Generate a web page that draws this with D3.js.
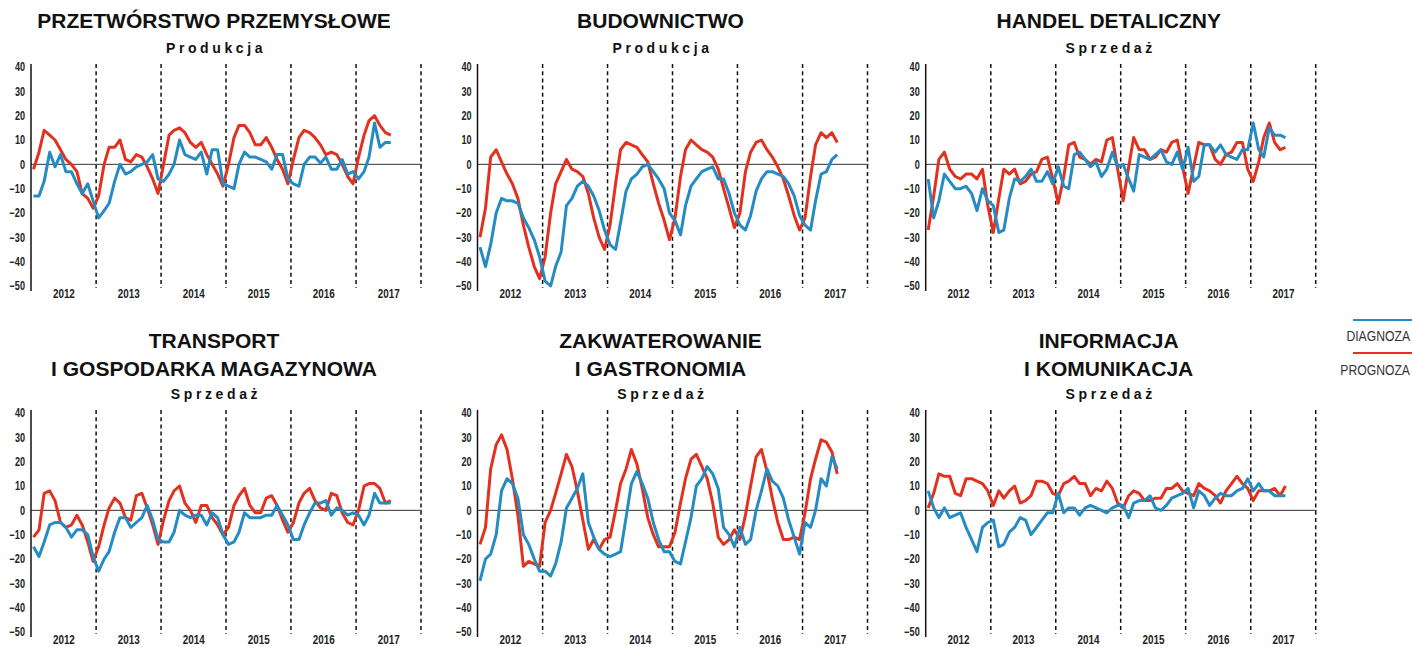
<!DOCTYPE html>
<html><head><meta charset="utf-8">
<script src="https://cdn.jsdelivr.net/npm/d3@7"></script>
<style>
body{margin:0;background:#fff;}
svg{display:block;}
.num{font-family:"Liberation Sans",Arial,sans-serif;font-weight:bold;}
</style></head><body>
<svg id="chart" width="1412" height="647"></svg>
<script>
// ---------------- DATA ----------------
const years = [2012, 2013, 2014, 2015, 2016, 2017];
const yTicks = [40, 30, 20, 10, 0, -10, -20, -30, -40, -50];
const seriesNames = ["DIAGNOZA", "PROGNOZA"];
const panelTitles = [
  ["PRZETWÓRSTWO PRZEMYSŁOWE"],
  ["BUDOWNICTWO"],
  ["HANDEL DETALICZNY"],
  ["TRANSPORT", "I GOSPODARKA MAGAZYNOWA"],
  ["ZAKWATEROWANIE", "I GASTRONOMIA"],
  ["INFORMACJA", "I KOMUNIKACJA"]
];
const panelSubtitles = ["Produkcja", "Produkcja", "Sprzedaż", "Sprzedaż", "Sprzedaż", "Sprzedaż"];

// monthly values Jan 2012 - Jul 2017
const przemyslDiag = [-13,-13,-7,5,-1,4,-3,-3,-8,-12,-8,-15, -22,-19,-16,-7,0,-4,-3,-1,0,1,4,-6, -7,-4,0,10,4,3,2,5,-4,6,6,-8, -9,-10,0,5,3,3,2,1,-2,4,4,-6, -8,-9,0,3,3,0.5,3,-2,-2,2,-4,-3, -6,-3,3,17,7,9,9];
const przemyslProg = [-2,5,14,12,10,6,2,0,-3,-12,-14,-18, -13,0,7,7,10,2,1,4,3,-1,-6,-12, 0,12,14,15,13,9,7,9,4,0,-4,-9, 0,11,16,16,13,8,8,11,7,2,-2,-8, 2,11,14,13,11,8,4,5,4,0,-5,-8, 3,12,18,20,16,13,12];
const budowDiag = [-34,-42,-33,-20,-14,-15,-15,-16,-22,-26,-31,-38, -48,-50,-42,-36,-17,-14,-9,-7,-9,-13,-19,-27, -33,-35,-24,-11,-6,-4,-1,0,-3,-6,-10,-20, -23,-29,-17,-9,-6,-3,-2,-1,-6,-6,-12,-20, -25,-27,-21,-11,-6,-3,-3,-4,-5,-8,-13,-21, -25,-27,-15,-4,-3,2,4];
const budowProg = [-30,-18,3,6,1,-4,-8,-14,-25,-34,-42,-47, -38,-20,-8,-3,2,-2,-3,-5,-12,-22,-30,-35, -25,-8,6,9,8,7,4,1,-8,-16,-23,-31, -22,-5,6,10,8,6,5,3,-2,-10,-18,-26, -20,-3,5,9,10,6,3,-1,-6,-13,-21,-27, -22,-5,8,13,11,13,9];
const handelDiag = [-6,-22,-15,-4,-7,-10,-10,-9,-12,-19,-10,-15, -17,-28,-27,-14,-6,-7,-5,-2,-7,-7,-3,-8, -1,-9,-10,4,5,2,-1,1,-5,-2,5,-1, 0,-6,-11,4,3,2,4,6,1,0,5,-2, 7,-7,-5,8,8,5,8,4,3,2,6,6, 17,6,3,15,12,12,11];
const handelProg = [-27,-13,2,5,-2,-5,-6,-4,-4,-6,-2,-17, -28,-14,-2,-4,-2,-8,-7,-4,-3,2,3,-6, -16,-5,8,9,3,2,0,2,1,10,11,-2, -15,-1,11,6,6,2,3,6,5,9,10,-1, -12,-1,9,8,8,2,0,4,5,9,9,-2, -7,1,11,17,9,6,7];
const transportDiag = [-15,-19,-13,-6,-5,-5,-7,-11,-8,-8,-10,-19, -25,-20,-17,-9,-3,-3,-7,-5,-3,2,-4,-12, -13,-13,-9,0,-2,-3,-2,-2,-6,-1,-3,-10, -14,-13,-9,-1,-3,-3,-3,-2,-2,2,-2,-6, -12,-12,-6,-1,3,3,4,-2,1,0,-2,-1, -2,-6,-2,7,3,3,3];
const transportProg = [-11,-8,7,8,4,-5,-7,-6,-2,-6,-13,-21, -15,-6,1,5,3,-3,-4,6,7,1,-6,-14, -4,4,8,10,3,0,-5,2,2,-3,-6,-10, -7,2,6,9,2,-1,-1,5,6,2,-4,-9, -5,3,7,9,4,1,0,7,6,-1,-5,-6, 0,10,11,11,9,3,4];
const gastroDiag = [-29,-20,-18,-10,8,13,11,5,-10,-14,-20,-25, -25,-27,-22,-13,1,5,9,15,-5,-11,-16,-18, -19,-18,-17,-3,11,16,11,5,-5,-12,-17,-17, -21,-22,-13,-3,10,13,18,15,9,-7,-10,-15, -7,-14,-12,0,8,17,12,10,5,-4,-11,-18, -5,-7,0,13,10,22,17];
const gastroProg = [-14,-7,17,27,31,25,13,-2,-23,-21,-22,-23, -5,0,7,15,23,18,8,-4,-16,-12,-16,-12, -11,0,11,17,25,19,9,-3,-10,-15,-15,-15, -9,3,13,21,23,18,13,3,-11,-14,-12,-8, -12,-2,10,22,25,16,5,-5,-12,-12,-11,-12, -1,13,21,29,28,24,15];
const infoDiag = [8,1,-3,1,-3,-2,-1,-7,-12,-17,-7,-5, -4,-15,-14,-9,-7,-3,-4,-10,-7,-4,-1,-1, 7,-1,1,1,-2,1,2,1,0,-1,1,2, 2,-3,3,4,4,6,1,0,2,5,6,7, 9,1,8,6,2,5,7,6,6,8,9,13, 8,11,8,8,6,6,6];
const infoProg = [1,7,15,14,14,7,6,13,13,12,11,8, 2,8,5,8,10,3,4,6,12,12,11,7, 6,11,12,14,11,11,6,9,8,12,9,3, 1,6,8,7,4,4,5,5,9,9,11,8, 7,6,11,9,8,6,3,8,11,14,11,9, 4,8,8,8,9,6,10];

const panelDiag = [przemyslDiag, budowDiag, handelDiag, transportDiag, gastroDiag, infoDiag];
const panelProg = [przemyslProg, budowProg, handelProg, transportProg, gastroProg, infoProg];

// ---------------- LAYOUT ----------------
const COLORS = { diag: "#258bc3", prog: "#e2311f" };
const colX = [31, 477.5, 925.7];
const PLOT_W = 390;
const NARROW = 0.76;
const rows = [
  { top: 67, bottom: 286, titleBase: [28], subBase: 53 },
  { top: 413, bottom: 632, titleBase: [348, 376], subBase: 399 }
];

const svg = d3.select("#chart");
const monthDate = i => new Date(2012, i, 15);

panelTitles.forEach((title, p) => {
  const col = p % 3, row = rows[Math.floor(p / 3)];
  const x0 = colX[col];
  const x = d3.scaleTime().domain([new Date(2012, 0, 1), new Date(2018, 0, 1)]).range([x0, x0 + PLOT_W]);
  const y = d3.scaleLinear().domain([-50, 40]).range([row.bottom, row.top]);
  const g = svg.append("g");

  // titles
  const cx = x0 + PLOT_W / 2 - 12;
  title.forEach((t, k) => {
    g.append("text").attr("x", cx).attr("y", row.titleBase[k]).attr("text-anchor", "middle")
      .attr("font-family", "Liberation Sans, Arial, sans-serif").attr("font-weight", "bold")
      .attr("font-size", 21).attr("fill", "#111").text(t);
  });
  g.append("text").attr("x", cx + 2).attr("y", row.subBase).attr("text-anchor", "middle")
    .attr("font-family", "Liberation Sans, Arial, sans-serif").attr("font-weight", "bold")
    .attr("font-size", 14).attr("letter-spacing", "3.6px").attr("fill", "#111").text(panelSubtitles[p]);

  // dashed year lines
  const bounds = d3.timeYear.range(new Date(2013, 0, 1), new Date(2018, 0, 2));
  g.selectAll(".yl").data(bounds).enter().append("line")
    .attr("x1", d => x(d)).attr("x2", d => x(d))
    .attr("y1", row.top - 3).attr("y2", row.bottom + 2)
    .attr("stroke", "#111").attr("stroke-width", 1.5).attr("stroke-dasharray", "4,3.2");

  // zero line
  g.append("line").attr("x1", x0).attr("x2", x0 + PLOT_W + 1).attr("y1", y(0)).attr("y2", y(0))
    .attr("stroke", "#333").attr("stroke-width", 1);

  // y axis
  const ya = g.append("g").attr("transform", `translate(${x0},0)`)
    .call(d3.axisLeft(y).tickValues(yTicks).tickSize(0).tickPadding(6).tickFormat(d3.format("d")));
  ya.select(".domain").remove();
  ya.selectAll("text").attr("class", "num").attr("font-size", 12).attr("fill", "#222")
    .attr("x", -6 / NARROW).attr("transform", `scale(${NARROW},1)`);
  g.append("line").attr("x1", x0).attr("x2", x0).attr("y1", row.top - 3).attr("y2", row.bottom + 5)
    .attr("stroke", "#111").attr("stroke-width", 1.5);

  // x axis (year labels)
  const xa = g.append("g").attr("transform", `translate(0,${row.bottom + 2})`)
    .call(d3.axisBottom(x).tickValues(years.map(yr => new Date(yr, 6, 1))).tickSize(0).tickPadding(1)
      .tickFormat(d3.timeFormat("%Y")));
  xa.select(".domain").remove();
  xa.selectAll("text").attr("class", "num").attr("font-size", 13).attr("fill", "#222")
    .attr("transform", `scale(${NARROW},1)`);

  // lines
  const line = d3.line().x((d, i) => x(monthDate(i))).y(d => y(d));
  g.append("path").datum(panelProg[p]).attr("d", line).attr("fill", "none")
    .attr("stroke", COLORS.prog).attr("stroke-width", 3).attr("stroke-linejoin", "round");
  g.append("path").datum(panelDiag[p]).attr("d", line).attr("fill", "none")
    .attr("stroke", COLORS.diag).attr("stroke-width", 3).attr("stroke-linejoin", "round");
});

// legend
const legend = svg.append("g");
const legendItems = [
  { name: seriesNames[0], color: COLORS.diag, ly: 320, ty: 341 },
  { name: seriesNames[1], color: COLORS.prog, ly: 353, ty: 375 }
];
legendItems.forEach(it => {
  legend.append("line").attr("x1", 1353).attr("x2", 1412).attr("y1", it.ly).attr("y2", it.ly)
    .attr("stroke", it.color).attr("stroke-width", 2);
  legend.append("text").attr("transform", `translate(1410,${it.ty}) scale(0.87,1)`)
    .attr("text-anchor", "end")
    .attr("font-family", "Liberation Sans, Arial, sans-serif").attr("font-size", 14)
    .attr("fill", "#333").text(it.name);
});
</script>
</body></html>
